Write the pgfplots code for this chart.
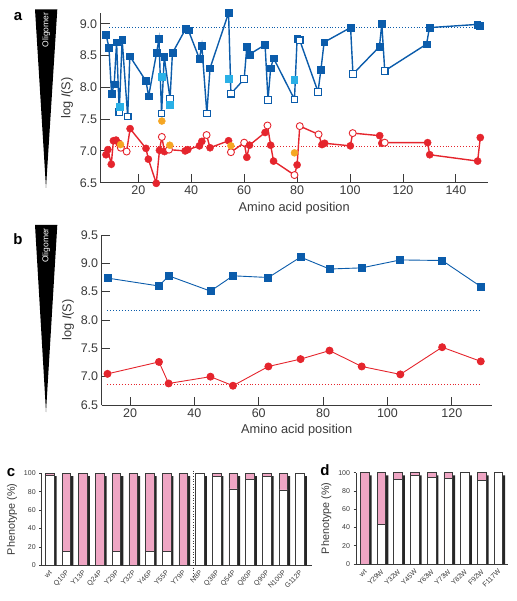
\documentclass[border=0pt]{standalone}
\usepackage{pgfplots}
\pgfplotsset{compat=1.18}
\usepackage{pgfplotstable}
\usepackage{fontspec}
\setmainfont{Liberation Sans}
\setsansfont{Liberation Sans}
\definecolor{bl}{HTML}{0B5CAB}
\definecolor{rd}{HTML}{E5252D}
\definecolor{cy}{HTML}{2AB0E6}
\definecolor{og}{HTML}{F5A623}
\definecolor{pk}{HTML}{EFA6C4}
\definecolor{ax}{HTML}{3A3A3A}

\pgfplotstableread{
x y t
7.8 8.83 f
8.9 8.63 f
9.9 7.90 f
10.9 8.05 f
11.8 8.71 f
12.8 7.61 o
13.9 8.75 f
16.0 7.54 o
16.8 8.49 f
22.9 8.10 f
23.9 7.86 f
26.9 8.54 f
27.8 8.76 f
28.8 7.59 o
29.8 8.48 f
32.0 7.82 o
32.9 8.54 f
37.9 8.92 f
38.9 8.90 f
43.1 8.45 f
44.0 8.66 f
45.9 7.59 o
47.1 8.30 f
54.1 9.17 f
55.0 7.90 o
60.0 8.13 o
61.0 8.64 f
62.0 8.52 f
67.9 8.67 f
69.0 7.80 o
70.0 8.30 f
71.1 8.46 f
79.0 7.81 o
80.0 8.77 f
81.0 8.74 o
87.9 7.93 o
89.0 8.28 f
90.2 8.71 f
100.2 8.94 f
101.1 8.21 o
111.1 8.64 f
112.0 9.00 f
113.1 8.26 o
128.9 8.68 f
130.0 8.94 f
148.0 8.99 f
149.0 8.97 f
}\blueA

\pgfplotstableread{
x y t
7.8 6.94 f
8.5 7.02 f
9.8 6.79 f
10.6 7.16 f
11.6 7.17 f
12.7 7.12 f
13.4 7.05 o
15.6 6.99 o
16.9 7.35 f
22.9 7.04 f
23.8 6.87 f
26.8 6.49 f
28.0 7.01 f
28.9 7.22 o
29.9 6.99 f
31.6 7.02 o
37.7 7.00 f
38.7 7.02 f
43.1 7.08 f
44.0 7.15 f
45.8 7.25 o
47.1 7.05 f
54.1 7.16 f
55.0 6.98 o
60.0 7.13 o
61.0 6.90 f
62.0 7.09 f
67.9 7.29 f
68.8 7.40 o
70.0 7.09 f
71.1 6.84 f
79.0 6.62 o
80.0 6.78 f
81.0 7.39 o
88.1 7.26 o
89.4 7.10 f
90.4 7.12 f
100.1 7.08 f
101.0 7.28 o
111.2 7.24 f
112.0 7.12 f
113.1 7.13 o
129.3 7.13 f
130.1 6.94 f
148.2 6.84 f
149.2 7.21 f
}\redA

\pgfplotstableread{
x blue red
13 8.74 7.05
29 8.60 7.26
32 8.78 6.88
45 8.51 7.00
52 8.78 6.84
63 8.75 7.18
73 9.11 7.31
82 8.90 7.46
92 8.92 7.18
104 9.06 7.04
117 9.05 7.52
129 8.59 7.27
}\dataB

% panel c: index, white %, pink % (white+pink = 100)
\pgfplotstableread{
i w p
0 98 2
1 15 85
2 0 100
3 0 100
4 15 85
5 0 100
6 15 85
7 15 85
8 0 100
9 100 0
10 97 3
11 83 17
12 93 7
13 97 3
14 82 18
15 100 0
}\dataC

\pgfplotstableread{
i w p
0 0 100
1 43 57
2 93 7
3 97 3
4 95 5
5 94 6
6 100 0
7 92 8
8 100 0
}\dataD

\pgfplotsset{
  panelab/.style={
    scale only axis, axis x line*=bottom, axis y line*=left,
    axis line style={ax, line width=0.9pt, -},
    tick style={ax, line width=0.9pt},
    tick align=inside, major tick length=9pt,
    /pgf/number format/assume math mode=true,
    tick label style={font=\fontsize{12.5}{14}\selectfont, text=ax},
    yticklabel style={/pgf/number format/fixed, /pgf/number format/fixed zerofill, /pgf/number format/precision=1},
    label style={font=\fontsize{12.8}{15}\selectfont, text=ax},
    ylabel={log \textit{I}(S)},
    xlabel={Amino acid position},
    clip=false,
  },
  panelcd/.style={
    scale only axis, axis x line*=bottom, axis y line*=left,
    axis line style={ax, line width=0.8pt, -},
    ytick style={ax, line width=0.7pt},
    xtick style={draw=none},
    tick align=outside, major tick length=2.5pt,
    ymin=0, ymax=100, ytick={0,20,...,100},
    /pgf/number format/assume math mode=true,
    yticklabel style={font=\fontsize{7}{8}\selectfont, text=ax},
    xticklabel style={font=\fontsize{7}{8}\selectfont, text=ax, rotate=45, anchor=north east, inner sep=1pt, xshift=-1pt},
    ylabel style={font=\fontsize{10.8}{12}\selectfont, text=ax},
    ylabel={Phenotype (\%)},
    clip=false,
  },
}

\begin{document}
\begin{tikzpicture}[x=1pt,y=1pt]
\useasboundingbox (0,0) rectangle (516,-601);

% ---- triangles ----
\fill[black] (35,-9.3) -- (57.3,-9.3) -- (46,-188) -- cycle;
\node[rotate=90, text=white, font=\fontsize{8.5}{9}\selectfont, anchor=east, inner sep=0pt] at (46.3,-12.5) {Oligomer};
\fill[black] (35,-225) -- (57.3,-225) -- (46,-412) -- cycle;
\node[rotate=90, text=white, font=\fontsize{8.5}{9}\selectfont, anchor=east, inner sep=0pt] at (46.3,-228) {Oligomer};

% ---- panel letters ----
\node[font=\bfseries\fontsize{15}{16}\selectfont, anchor=base] at (18,-21) {a};
\node[font=\bfseries\fontsize{15}{16}\selectfont, anchor=base] at (18,-244) {b};
\node[font=\bfseries\fontsize{15}{16}\selectfont, anchor=base] at (11,-476) {c};
\node[font=\bfseries\fontsize{15}{16}\selectfont, anchor=base] at (325,-475) {d};

% ---- panel a ----
\begin{axis}[panelab, at={(100.7pt,-182.7pt)}, anchor=south west,
  width=387pt, height=169.7pt, xmin=5.8, xmax=152, ymin=6.5, ymax=9.17,
  xtick={20,40,...,140}, ytick={6.5,7.0,7.5,8.0,8.5,9.0}]
\addplot[bl, line width=0.9pt, dotted] coordinates {(9,8.94) (149,8.94)};
\addplot[rd, line width=0.9pt, dotted] coordinates {(9,7.07) (149,7.07)};
\addplot[bl, line width=1.4pt, no marks] table[x=x,y=y] {\blueA};
\addplot[rd, line width=1.4pt, no marks] table[x=x,y=y] {\redA};
\addplot[scatter, only marks, scatter src=explicit symbolic,
  scatter/classes={
    f={mark=square*, mark size=3.4pt, draw=bl, fill=bl},
    o={mark=square*, mark size=3.3pt, draw=bl, fill=white, line width=1.2pt}}]
  table[x=x,y=y,meta=t] {\blueA};
\addplot[scatter, only marks, scatter src=explicit symbolic,
  scatter/classes={
    f={mark=*, mark size=3.6pt, draw=rd, fill=rd},
    o={mark=*, mark size=3.5pt, draw=rd, fill=white, line width=0.9pt}}]
  table[x=x,y=y,meta=t] {\redA};
\addplot[only marks, mark=square*, mark size=3.4pt, draw=cy, fill=cy]
  coordinates {(13.1,7.70) (28.8,8.17) (31.9,7.73) (54.3,8.14) (78.9,8.12)};
\addplot[only marks, mark=*, mark size=3.5pt, draw=og, fill=og]
  coordinates {(13.3,7.10) (28.9,7.47) (31.9,7.09) (55.0,7.08) (79.0,6.97)};
\end{axis}

% ---- panel b ----
\begin{axis}[panelab, at={(101.7pt,-405pt)}, anchor=south west,
  width=390pt, height=170pt, xmin=11.2, xmax=132.4, ymin=6.5, ymax=9.5,
  xtick={20,40,...,120}, ytick={6.5,7.0,7.5,8.0,8.5,9.0,9.5}, major tick length=8pt]
\addplot[bl, line width=0.9pt, dotted] coordinates {(13,8.16) (129,8.16)};
\addplot[rd, line width=0.9pt, dotted] coordinates {(13,6.86) (129,6.86)};
\addplot[bl, line width=0.9pt, mark=square*, mark size=3.5pt, mark options={fill=bl, draw=bl}] table[x=x,y=blue] {\dataB};
\addplot[rd, line width=0.9pt, mark=*, mark size=3.5pt, mark options={fill=rd, draw=rd}] table[x=x,y=red] {\dataB};
\end{axis}

% ---- panel c ----
\begin{axis}[panelcd, at={(41.7pt,-565.3pt)}, anchor=south west,
  width=270pt, height=92pt, xmin=-0.48, xmax=15.7,
  xtick={0,...,15},
  xticklabels={wt,Q10P,Y13P,Q24P,Y29P,Y32P,Y46P,Y55P,Y79P,N8P,Q38P,Q54P,Q80P,Q90P,N100P,G112P}]
\addplot[ybar, bar width=8.6pt, bar shift=2.6pt, fill=black!85, draw=none]
  table[x=i, y expr=97] {\dataC};
\addplot[ybar, bar width=8.6pt, bar shift=0pt, fill=pk, draw=ax, line width=0.6pt]
  table[x=i, y expr=\thisrow{w}+\thisrow{p}] {\dataC};
\addplot[ybar, bar width=8.6pt, bar shift=0pt, fill=white, draw=ax, line width=0.6pt]
  table[x=i, y=w] {\dataC};
\draw[ax, line width=0.7pt, dotted] (axis cs:8.6,103) -- (axis cs:8.6,-12);
\end{axis}

% ---- panel d ----
\begin{axis}[panelcd, at={(356pt,-564pt)}, anchor=south west,
  width=152pt, height=91.3pt, xmin=-0.52, xmax=8.58,
  xtick={0,...,8},
  xticklabels={wt,Y29W,Y32W,Y45W,Y63W,Y73W,Y82W,F92W,F117W}]
\addplot[ybar, bar width=8.6pt, bar shift=2.6pt, fill=black!85, draw=none]
  table[x=i, y expr=97] {\dataD};
\addplot[ybar, bar width=8.6pt, bar shift=0pt, fill=pk, draw=ax, line width=0.6pt]
  table[x=i, y expr=\thisrow{w}+\thisrow{p}] {\dataD};
\addplot[ybar, bar width=8.6pt, bar shift=0pt, fill=white, draw=ax, line width=0.6pt]
  table[x=i, y=w] {\dataD};
\end{axis}
\end{tikzpicture}
\end{document}
